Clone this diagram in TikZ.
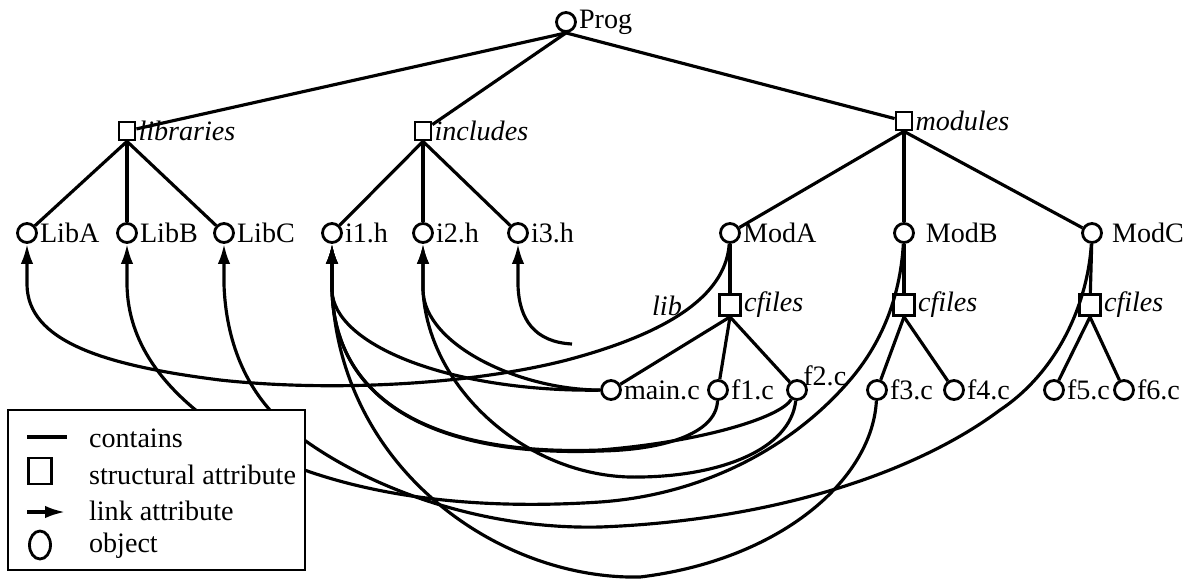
\documentclass[tikz,border=0pt]{standalone}
\usepackage{fontspec}
\setmainfont{Liberation Serif}
\usetikzlibrary{arrows.meta,shapes.geometric}
\begin{document}
\begin{tikzpicture}[x=0.02cm,y=-0.02cm,
  every node/.style={font=\fontsize{16}{19}\selectfont},
  obj/.style={draw,circle,line width=1.6pt,minimum size=0.38cm,inner sep=0pt},
  attr/.style={draw,rectangle,line width=1.6pt,minimum width=0.32cm,minimum height=0.36cm,inner sep=0pt},
  cattr/.style={attr,minimum width=0.42cm,minimum height=0.42cm},
  lbl/.style={anchor=west,inner sep=1pt},
  ilbl/.style={lbl,font=\fontsize{16}{19}\selectfont\itshape},
  contains/.style={line width=1.8pt},
  link/.style={line width=1.8pt,-{Latex[length=0.4cm,width=0.25cm]}},
]
\useasboundingbox (0,0) rectangle (1200,579);

% ---- nodes ----
\node[obj] (Prog) at (566,22) {};
\node[lbl] (tProg) at (Prog.east) {Prog};

\node[attr] (libs) at (127,131) {};
\node[ilbl] (tlibs) at (libs.east) {libraries};
\node[attr] (incs) at (423,131) {};
\node[ilbl] (tincs) at (incs.east) {includes};
\node[attr] (mods) at (904,121) {};
\node[ilbl] (tmods) at (mods.east) {modules};

\node[obj] (LibA) at (27,233) {};
\node[lbl] (tLibA) at (LibA.east) {LibA};
\node[obj] (LibB) at (127,233) {};
\node[lbl] (tLibB) at (LibB.east) {LibB};
\node[obj] (LibC) at (224,233) {};
\node[lbl] (tLibC) at (LibC.east) {LibC};
\node[obj] (i1) at (332,233) {};
\node[lbl] (ti1) at (i1.east) {i1.h};
\node[obj] (i2) at (423,233) {};
\node[lbl] (ti2) at (i2.east) {i2.h};
\node[obj] (i3) at (518,233) {};
\node[lbl] (ti3) at (i3.east) {i3.h};

\node[obj] (ModA) at (730,233) {};
\node[lbl] (tModA) at (ModA.east) {ModA};
\node[obj] (ModB) at (904,233) {};
\node[lbl,xshift=5pt] (tModB) at (ModB.east) {ModB};
\node[obj] (ModC) at (1092,233) {};
\node[lbl,xshift=4pt] (tModC) at (ModC.east) {ModC};

\node[cattr] (cfA) at (730,305) {};
\node[ilbl] (tcfA) at (cfA.east) {cfiles};
\node[cattr] (cfB) at (904,305) {};
\node[ilbl] (tcfB) at (cfB.east) {cfiles};
\node[cattr] (cfC) at (1090,305) {};
\node[ilbl] (tcfC) at (cfC.east) {cfiles};

\node[obj] (mainc) at (611,390) {};
\node[lbl] (tmainc) at (mainc.east) {main.c};
\node[obj] (f1) at (718,390) {};
\node[lbl] (tf1) at (f1.east) {f1.c};
\node[obj] (f2) at (797,390) {};
\node[anchor=south west,inner sep=1pt,xshift=-2pt,yshift=-3pt] (tf2) at (f2.north east) {f2.c};
\node[obj] (f3) at (877,390) {};
\node[lbl] (tf3) at (f3.east) {f3.c};
\node[obj] (f4) at (954,390) {};
\node[lbl] (tf4) at (f4.east) {f4.c};
\node[obj] (f5) at (1054,390) {};
\node[lbl] (tf5) at (f5.east) {f5.c};
\node[obj] (f6) at (1124,390) {};
\node[lbl] (tf6) at (f6.east) {f6.c};

% ---- containment edges ----
\draw[contains] (Prog.south) -- (libs);
\draw[contains] (Prog.south) -- (incs);
\draw[contains] (Prog.south) -- (mods);
\foreach \c in {LibA,LibB,LibC} \draw[contains] (libs.south) -- (\c);
\foreach \c in {i1,i2,i3} \draw[contains] (incs.south) -- (\c);
\foreach \c in {ModA,ModB,ModC} \draw[contains] (mods.south) -- (\c);
\draw[contains] (ModA) -- (cfA);
\draw[contains] (ModB) -- (cfB);
\draw[contains] (ModC) -- (cfC);
\foreach \c in {mainc,f1,f2} \draw[contains] (cfA.south) -- (\c);
\foreach \c in {f3,f4} \draw[contains] (cfB.south) -- (\c);
\foreach \c in {f5,f6} \draw[contains] (cfC.south) -- (\c);

% ---- link attributes ----
\coordinate (sLibA) at (27,285);
\coordinate (sLibB) at (127,285);
\coordinate (sLibC) at (224,285);
\coordinate (si1) at (332,290);
\coordinate (si2) at (423,290);
\coordinate (si3) at (518,285);
\coordinate (i3free) at (572,344);

\draw[link] (ModA) .. controls (726,290) and (680,330) .. (567,360)
  .. controls (470,385) and (330,392) .. (220,380)
  .. controls (100,365) and (28,340) .. (sLibA) -- (LibA);
\node[ilbl,anchor=center] (tlib) at (667,306) {lib};

\draw[link] (mainc) .. controls (450,392) and (333,345) .. (si1) -- (i1);
\draw[link] (mainc) .. controls (520,390) and (424,345) .. (si2) -- (i2);
\draw[link] (f1) .. controls (716,435) and (660,450) .. (600,451)
  .. controls (440,457) and (335,405) .. (si1) -- (i1);
\draw[link] (f2) .. controls (780,418) and (700,442) .. (600,450)
  .. controls (440,456) and (335,405) .. (si1) -- (i1);
\draw[link] (f2) .. controls (790,450) and (720,476) .. (640,477)
  .. controls (530,480) and (428,390) .. (si2) -- (i2);
\draw[link] (f3) .. controls (872,480) and (780,560) .. (640,577)
  .. controls (500,580) and (340,470) .. (si1) -- (i1);
\draw[link] (ModB) .. controls (900,300) and (880,345) .. (850,380)
  .. controls (790,450) and (700,495) .. (600,502)
  .. controls (450,512) and (320,490) .. (230,435)
  .. controls (160,390) and (128,340) .. (sLibB) -- (LibB);
\draw[link] (ModC) .. controls (1088,300) and (1060,370) .. (1000,410)
  .. controls (920,470) and (780,520) .. (600,527)
  .. controls (470,530) and (350,480) .. (285,425)
  .. controls (245,390) and (226,340) .. (sLibC) -- (LibC);
\draw[link] (i3free) .. controls (535,342) and (519,320) .. (si3) -- (i3);

% ---- legend ----
\node[draw,fill=white,line width=1.5pt,inner sep=0pt,minimum width=5.94cm,minimum height=3.2cm] (legend) at (156.5,490) {};
\coordinate (lc1) at (27,437);
\coordinate (lc2) at (67,437);
\draw[contains] (lc1) -- (lc2);
\node[attr,minimum width=0.46cm,minimum height=0.52cm] (legattr) at (40,471) {};
\coordinate (la1) at (27,512);
\coordinate (la2) at (65,512);
\draw[link] (la1) -- (la2);
\node[draw,ellipse,line width=1.6pt,minimum width=0.42cm,minimum height=0.56cm,inner sep=0pt] (legobj) at (40,545) {};
\node[lbl] (tl1) at (87,438) {contains};
\node[lbl] (tl2) at (87,475) {structural attribute};
\node[lbl] (tl3) at (87,511) {link attribute};
\node[lbl] (tl4) at (87,546) {object};
\end{tikzpicture}
\end{document}
